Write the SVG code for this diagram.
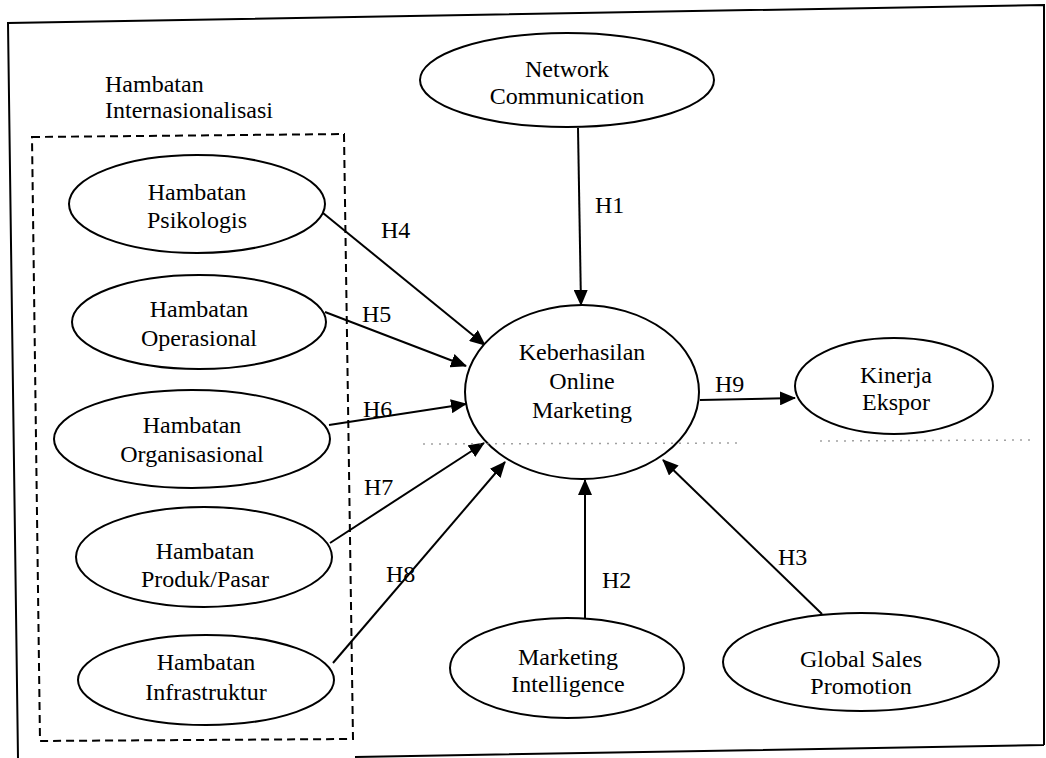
<svg xmlns="http://www.w3.org/2000/svg" width="1046" height="758" viewBox="0 0 1046 758">
  <defs>
    <marker id="arrow" viewBox="0 0 16 14" refX="15" refY="7" markerWidth="16" markerHeight="14" markerUnits="userSpaceOnUse" orient="auto">
      <path d="M0,0 L16,7 L0,14 Z" fill="#000"/>
    </marker>
    <style>
      text { font-family: "Liberation Serif", "Times New Roman", serif; font-size: 24px; fill: #000; }
      .node ellipse { fill: #fff; stroke: #000; stroke-width: 2; }
      .node text { text-anchor: middle; }
      .frame { fill: none; stroke: #000; stroke-width: 2; }
      .group-box { fill: none; stroke: #000; stroke-width: 2; stroke-dasharray: 8 5; }
      .edge { fill: none; stroke: #000; stroke-width: 2; marker-end: url(#arrow); }
      .faint { fill: none; stroke: #777; stroke-width: 1.5; stroke-dasharray: 2 6; opacity: 0.7; }
    </style>
  </defs>

  <rect width="1046" height="758" fill="#fff"/>

  <!-- outer frame -->
  <path class="frame" d="M18,758 L8,23 L1044,5 L1044,745 M355,757 L1044,745"/>

  <!-- dashed grouping box for internationalisation barriers -->
  <path class="group-box" d="M32,137 L344,134 L353,739 L40,741 Z"/>
  <g id="group-label">
    <text x="105" y="92">Hambatan</text>
    <text x="105" y="118">Internasionalisasi</text>
  </g>

  <!-- connectors -->
  <g id="connectors">
    <path class="edge" d="M578,128 L581,305"/>
    <path class="edge" d="M323,213 L485,345"/>
    <path class="edge" d="M325,312 L466,366"/>
    <path class="edge" d="M329,425 L466,404"/>
    <path class="edge" d="M330,543 L484,443"/>
    <path class="edge" d="M333,663 L505,462"/>
    <path class="edge" d="M585,618 L585,480"/>
    <path class="edge" d="M822,614 L663,460"/>
    <path class="edge" d="M700,400 L795,398"/>
    <text x="595" y="213">H1</text>
    <text x="381" y="238">H4</text>
    <text x="362" y="322">H5</text>
    <text x="363" y="417">H6</text>
    <text x="364" y="495">H7</text>
    <text x="386" y="582">H8</text>
    <text x="602" y="588">H2</text>
    <text x="778" y="565">H3</text>
    <text x="715" y="392">H9</text>
  </g>

  <!-- nodes -->
  <g id="network-communication" class="node">
    <ellipse cx="567" cy="80" rx="147" ry="47"/>
    <text x="567" y="77">Network</text>
    <text x="567" y="104">Communication</text>
  </g>

  <g id="hambatan-psikologis" class="node">
    <ellipse cx="197" cy="204" rx="128" ry="49"/>
    <text x="197" y="200">Hambatan</text>
    <text x="197" y="228">Psikologis</text>
  </g>

  <g id="hambatan-operasional" class="node">
    <ellipse cx="199" cy="322" rx="127" ry="47"/>
    <text x="199" y="317">Hambatan</text>
    <text x="199" y="346">Operasional</text>
  </g>

  <g id="hambatan-organisasional" class="node">
    <ellipse cx="192" cy="439" rx="138" ry="49"/>
    <text x="192" y="433">Hambatan</text>
    <text x="192" y="462">Organisasional</text>
  </g>

  <g id="hambatan-produk-pasar" class="node">
    <ellipse cx="204" cy="557" rx="128" ry="50"/>
    <text x="205" y="559">Hambatan</text>
    <text x="205" y="587">Produk/Pasar</text>
  </g>

  <g id="hambatan-infrastruktur" class="node">
    <ellipse cx="206" cy="680" rx="128" ry="45"/>
    <text x="206" y="670">Hambatan</text>
    <text x="206" y="700">Infrastruktur</text>
  </g>

  <g id="keberhasilan-online-marketing" class="node">
    <ellipse cx="582" cy="392" rx="117" ry="87"/>
    <text x="582" y="360">Keberhasilan</text>
    <text x="582" y="389">Online</text>
    <text x="582" y="418">Marketing</text>
  </g>

  <g id="kinerja-ekspor" class="node">
    <ellipse cx="894" cy="386" rx="99" ry="48"/>
    <text x="896" y="383">Kinerja</text>
    <text x="896" y="410">Ekspor</text>
  </g>

  <g id="marketing-intelligence" class="node">
    <ellipse cx="567" cy="668" rx="117" ry="50"/>
    <text x="568" y="665">Marketing</text>
    <text x="568" y="692">Intelligence</text>
  </g>

  <g id="global-sales-promotion" class="node">
    <ellipse cx="861" cy="662" rx="138" ry="49"/>
    <text x="861" y="667">Global Sales</text>
    <text x="861" y="694">Promotion</text>
  </g>

  <!-- faint dotted rule running across the lower part of the central construct -->
  <path class="faint" d="M423,444 L740,443 M820,441 L1035,440"/>
</svg>
